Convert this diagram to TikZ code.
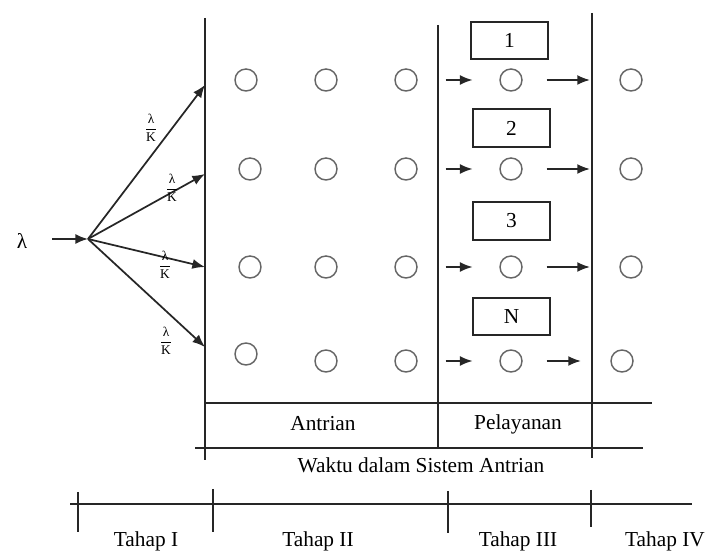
\documentclass[tikz,border=0pt]{standalone}
\usepackage{fontspec}
\setmainfont{Liberation Serif}
\usetikzlibrary{arrows.meta}
\newcommand{\ratefrac}{$\displaystyle\frac{\mbox{λ}}{\mbox{K}}$}
\begin{document}
\begin{tikzpicture}[x=0.75pt,y=-0.75pt,
  font=\fontsize{16}{19}\selectfont,
  rule/.style={line width=1.3pt,draw=black!85},
  arr/.style={line width=1.3pt,draw=black!85,-{Latex[length=9.5pt,width=7.5pt]}},
  cust/.style={circle,draw=black!60,line width=1.1pt,minimum size=16.5pt,inner sep=0pt},
  srv/.style={draw=black!85,line width=1.3pt,minimum width=57.75pt,minimum height=28pt,inner sep=0pt},
  rate/.style={font=\fontsize{10}{11}\selectfont,inner sep=0pt}]
\useasboundingbox (0,0) rectangle (715,552);

% stage boundaries
\coordinate (la) at (205,18);  \coordinate (lb) at (205,460);
\coordinate (ma) at (438,25);  \coordinate (mb) at (438,447);
\coordinate (ra) at (592,13);  \coordinate (rb) at (592,458);
\draw[rule] (la) -- (lb);
\draw[rule] (ma) -- (mb);
\draw[rule] (ra) -- (rb);

% arrival stream split into K lines
\node (lam) at (22,241) {λ};
\coordinate (in) at (52,239);
\coordinate (fan) at (88,239);
\coordinate (e1) at (205,85);
\coordinate (e2) at (205,174);
\coordinate (e3) at (205,267);
\coordinate (e4) at (205,347);
\draw[arr] (in) -- (fan);
\draw[arr] (fan) -- (e1);
\draw[arr] (fan) -- (e2);
\draw[arr] (fan) -- (e3);
\draw[arr] (fan) -- (e4);
\node[rate] (f1) at (151,128) {\ratefrac};
\node[rate] (f2) at (172,188) {\ratefrac};
\node[rate] (f3) at (165,265) {\ratefrac};
\node[rate] (f4) at (166,341) {\ratefrac};

% waiting customers
\node[cust] (q11) at (246,80) {};
\node[cust] (q12) at (326,80) {};
\node[cust] (q13) at (406,80) {};
\node[cust] (q21) at (250,169) {};
\node[cust] (q22) at (326,169) {};
\node[cust] (q23) at (406,169) {};
\node[cust] (q31) at (250,267) {};
\node[cust] (q32) at (326,267) {};
\node[cust] (q33) at (406,267) {};
\node[cust] (q41) at (246,354) {};
\node[cust] (q42) at (326,361) {};
\node[cust] (q43) at (406,361) {};

% servers
\node[srv] (b1) at (509.5,40.5) {1};
\node[srv] (b2) at (511.5,128) {2};
\node[srv] (b3) at (511.5,221) {3};
\node[srv] (bN) at (511.5,316.5) {N};
\node[cust] (s1) at (511,80) {};
\node[cust] (s2) at (511,169) {};
\node[cust] (s3) at (511,267) {};
\node[cust] (s4) at (511,361) {};

% departed customers
\node[cust] (r1) at (631,80) {};
\node[cust] (r2) at (631,169) {};
\node[cust] (r3) at (631,267) {};
\node[cust] (r4) at (622,361) {};

% flow into and out of service
\foreach \i in {1,2,3,4}{
  \draw[arr,shorten <=21pt,shorten >=20pt] (q\i3) -- (s\i);
  \draw[arr,shorten <=18pt,shorten >=22pt] (s\i) -- (r\i);
}

% time in system
\coordinate (h1a) at (205,403); \coordinate (h1b) at (652,403);
\coordinate (h2a) at (195,448); \coordinate (h2b) at (643,448);
\draw[rule] (h1a) -- (h1b);
\draw[rule] (h2a) -- (h2b);
\node (antri) at (323,424) {Antrian};
\node (layan) at (518,424) {Pelayanan};
\node (waktu) at (421,465) {Waktu dalam Sistem Antrian};

% stages
\coordinate (ta) at (70,504); \coordinate (tb) at (692,504);
\draw[rule] (ta) -- (tb);
\coordinate (k1a) at (78,492);  \coordinate (k1b) at (78,532);
\coordinate (k2a) at (213,489); \coordinate (k2b) at (213,532);
\coordinate (k3a) at (448,491); \coordinate (k3b) at (448,533);
\coordinate (k4a) at (591,490); \coordinate (k4b) at (591,527);
\draw[rule] (k1a) -- (k1b);
\draw[rule] (k2a) -- (k2b);
\draw[rule] (k3a) -- (k3b);
\draw[rule] (k4a) -- (k4b);
\node (t1) at (146,541) {Tahap I};
\node (t2) at (318,541) {Tahap II};
\node (t3) at (518,541) {Tahap III};
\node (t4) at (665,541) {Tahap IV};
\end{tikzpicture}
\end{document}
